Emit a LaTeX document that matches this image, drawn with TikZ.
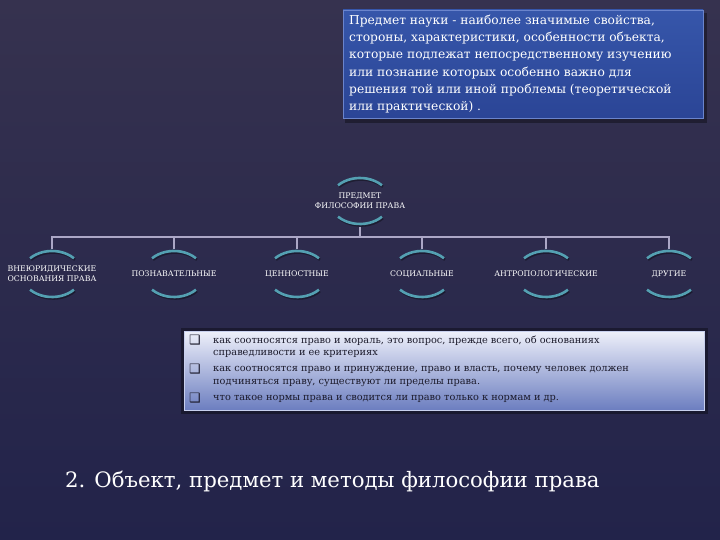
\documentclass[tikz,border=0pt]{standalone}
\usepackage{fontspec}
\setmainfont{DejaVu Serif}
\newfontfamily\symf{DejaVu Sans}
\usetikzlibrary{calc}
\definecolor{bgtop}{HTML}{36324F}
\definecolor{bgmid}{HTML}{3A3757}
\definecolor{bgbot}{HTML}{22234A}
\definecolor{boxtop}{HTML}{3656AA}
\definecolor{boxbot}{HTML}{2B4596}
\definecolor{boxedge}{HTML}{6A84CC}
\definecolor{ltop}{HTML}{EEF0FA}
\definecolor{lbot}{HTML}{6C7EC0}
\definecolor{ledge}{HTML}{C8D0EE}
\definecolor{ringc}{HTML}{54A0B2}
\definecolor{connc}{HTML}{ABA7C6}
\definecolor{darktext}{HTML}{1C1B2C}
\tikzset{
  conn/.style={connc,line width=2bp},
  ring/.style={ringc,line width=2.6bp},
  ringsh/.style={black,opacity=0.35,line width=2.6bp},
  lab/.style={white,font=\fontsize{7.8}{9.8}\selectfont,align=center,inner sep=0pt},
  bul/.style={darktext,font=\fontsize{9.8}{12}\selectfont,anchor=west,inner sep=0pt},
  bsq/.style={darktext,font=\symf\fontsize{13}{14}\selectfont,inner sep=0pt}
}
\begin{document}
\begin{tikzpicture}[x=1bp,y=-1bp]
\useasboundingbox (0,0) rectangle (720,540);
\shade[top color=bgtop,middle color=bgmid,bottom color=bgbot] (0,0) rectangle (720,540);
% top definition box
\fill[black,opacity=0.35] (345,13) rectangle (707,123);
\shadedraw[top color=boxtop,bottom color=boxbot,draw=boxedge,line width=0.8bp] (343,10) rectangle (703,118);
\node[white,anchor=north west,align=left,inner sep=0pt,font=\fontsize{12.3}{17.2}\selectfont] (def) at (349,15)
{Предмет науки - наиболее значимые свойства,\\
стороны, характеристики, особенности объекта,\\
которые подлежат непосредственному изучению\\
или познание которых особенно важно для\\
решения той или иной проблемы (теоретической\\
или практической) .};
% root
\node[lab] (root) at (360,201) {ПРЕДМЕТ\\ФИЛОСОФИИ ПРАВА};
% children
\node[lab] (c1) at (52,274) {ВНЕЮРИДИЧЕСКИЕ\\ОСНОВАНИЯ ПРАВА};
\node[lab] (c2) at (174,274) {ПОЗНАВАТЕЛЬНЫЕ};
\node[lab] (c3) at (297,274) {ЦЕННОСТНЫЕ};
\node[lab] (c4) at (422,274) {СОЦИАЛЬНЫЕ};
\node[lab] (c5) at (546,274) {АНТРОПОЛОГИЧЕСКИЕ};
\node[lab] (c6) at (669,274) {ДРУГИЕ};
% rings
\foreach \n in {root,c1,c2,c3,c4,c5,c6}{
  \draw[ringsh] ($(\n.center)+(1,1.5)$) ++(223:30 and 23) arc[start angle=223,end angle=317,x radius=30,y radius=23];
  \draw[ringsh] ($(\n.center)+(1,1.5)$) ++(43:30 and 23) arc[start angle=43,end angle=137,x radius=30,y radius=23];
  \draw[ring] (\n.center) ++(223:30 and 23) arc[start angle=223,end angle=317,x radius=30,y radius=23];
  \draw[ring] (\n.center) ++(43:30 and 23) arc[start angle=43,end angle=137,x radius=30,y radius=23];
}
% connectors
\coordinate (rb) at ($(root.center)+(0,26)$);
\foreach \i in {1,...,6}{\coordinate (t\i) at ($(c\i.center)+(0,-25)$);}
\draw[conn] (rb) -- ++(0,11);
\draw[conn] (t1) -- ++(0,-12) -| (t6);
\foreach \i in {2,3,4,5}{\draw[conn] (t\i) -- ++(0,-12);}
% bullet box
\fill[black,opacity=0.35] (181,328) rectangle (708,414);
\shadedraw[top color=ltop,bottom color=lbot,draw=ledge,line width=0.8bp] (184,331) rectangle (704,410);
\node[bsq] (q1) at (195,340) {❑};
\node[bsq] (q2) at (195,369) {❑};
\node[bsq] (q3) at (195,398) {❑};
\node[bul] (l1) at (213,341) {как соотносятся право и мораль, это вопрос, прежде всего, об основаниях};
\node[bul] (l2) at (213,354) {справедливости и ее критериях};
\node[bul] (l3) at (213,370) {как соотносятся право и принуждение, право и власть, почему человек должен};
\node[bul] (l4) at (213,383) {подчиняться праву, существуют ли пределы права.};
\node[bul] (l5) at (213,399) {что такое нормы права и сводится ли право только к нормам и др.};
% title
\node[white,anchor=base west,inner sep=0pt,font=\fontsize{21.3}{25}\selectfont] (title) at (65,487) {2. Объект, предмет и методы философии права};
\end{tikzpicture}
\end{document}
